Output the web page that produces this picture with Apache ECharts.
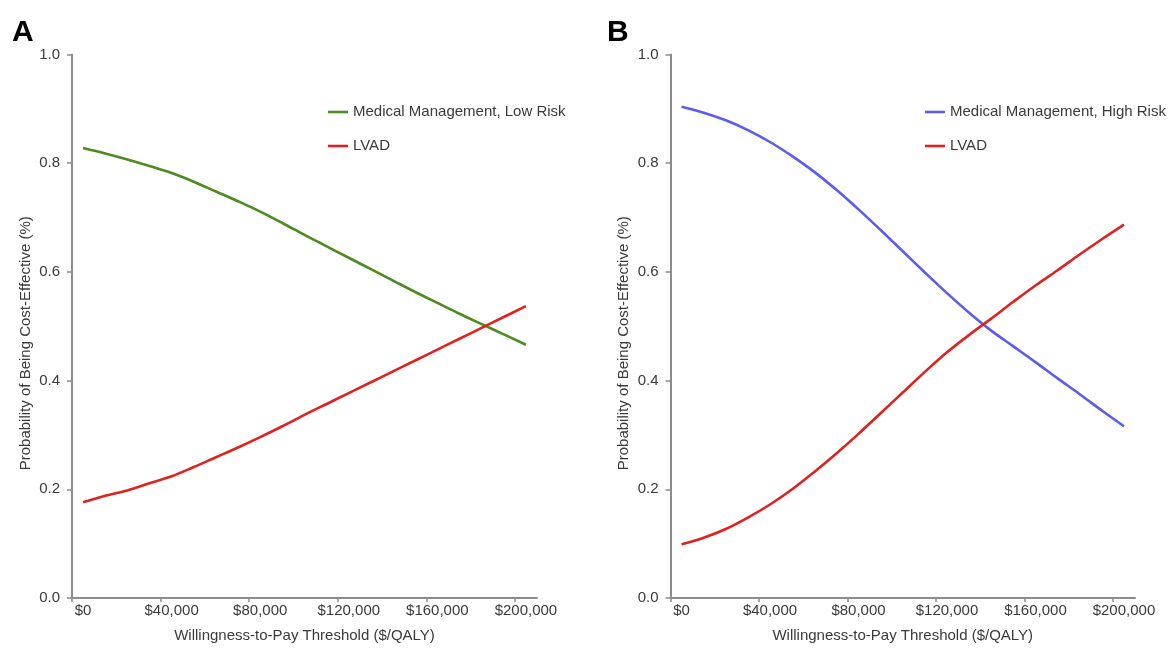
<!DOCTYPE html>
<html>
<head>
<meta charset="utf-8">
<script src="https://cdn.jsdelivr.net/npm/echarts@6/dist/echarts.min.js"></script>
<style>
  html, body { margin: 0; padding: 0; background: #fff; }
  #chart { width: 1173px; height: 648px; }
</style>
</head>
<body>
<div id="chart"></div>
<script>
// Willingness-to-pay thresholds ($/QALY), one point every $10,000
const thresholds = [0, 10000, 20000, 30000, 40000, 50000, 60000, 70000, 80000, 90000, 100000,
  110000, 120000, 130000, 140000, 150000, 160000, 170000, 180000, 190000, 200000];

// Panel A: low-risk cohort
const medLowRisk = [0.828, 0.818, 0.807, 0.795, 0.782, 0.766, 0.748, 0.730, 0.711, 0.690, 0.668,
  0.647, 0.626, 0.605, 0.584, 0.563, 0.543, 0.523, 0.504, 0.485, 0.466];
const lvadLowRisk = [0.176, 0.188, 0.198, 0.211, 0.224, 0.241, 0.259, 0.277, 0.296, 0.316, 0.337,
  0.357, 0.377, 0.397, 0.417, 0.437, 0.457, 0.477, 0.497, 0.517, 0.537];

// Panel B: high-risk cohort
const medHighRisk = [0.904, 0.893, 0.879, 0.861, 0.839, 0.813, 0.784, 0.751, 0.715, 0.677, 0.638,
  0.599, 0.561, 0.525, 0.492, 0.463, 0.434, 0.404, 0.375, 0.345, 0.316];
const lvadHighRisk = [0.099, 0.111, 0.127, 0.148, 0.172, 0.200, 0.232, 0.266, 0.302, 0.340, 0.378,
  0.416, 0.452, 0.484, 0.514, 0.545, 0.575, 0.603, 0.632, 0.660, 0.687];

// Axis tick labels
const xLabelValues = [0, 40000, 80000, 120000, 160000, 200000];
const xTickValues = [-5000, 35000, 75000, 115000, 155000, 195000];
const panelTitles = ['A', 'B'];
const seriesNames = {
  medLow: 'Medical Management, Low Risk',
  medHigh: 'Medical Management, High Risk',
  lvad: 'LVAD'
};
const xTitle = 'Willingness-to-Pay Threshold ($/QALY)';
const yTitle = 'Probability of Being Cost-Effective (%)';

const FONT = '"Liberation Sans", Arial, Helvetica, sans-serif';
const FS = 15;
const AXIS_GRAY = '#8c8c8c';
const TEXT = '#3a3a3a';
const GREEN = '#4b8b20';
const RED = '#e0221e';
const BLUE = '#5b5bf2';
const LEGEND_LINE = 'path://M0,0H20V2.6H0Z';

function pair(xs, ys) { return xs.map((x, i) => [x, ys[i]]); }
function money(v) { return '$' + v.toLocaleString('en-US'); }

function xAxis(gridIndex) {
  return {
    type: 'value', gridIndex,
    min: -5000, max: 205000,
    name: xTitle, nameLocation: 'middle', nameGap: 30,
    nameTextStyle: { fontFamily: FONT, fontSize: FS, color: TEXT },
    axisLine: { show: true, onZero: false, lineStyle: { color: AXIS_GRAY, width: 2 } },
    axisTick: { show: true, length: 4, customValues: xTickValues, lineStyle: { color: AXIS_GRAY, width: 1.5 } },
    axisLabel: { customValues: xLabelValues, formatter: money, margin: 5,
      fontFamily: FONT, fontSize: FS, color: TEXT },
    splitLine: { show: false }
  };
}
function yAxis(gridIndex) {
  return {
    type: 'value', gridIndex,
    min: 0, max: 1, interval: 0.2,
    name: yTitle, nameLocation: 'middle', nameGap: 39, nameRotate: 90,
    nameTextStyle: { fontFamily: FONT, fontSize: FS, color: TEXT, padding: [0, 34, 0, 0] },
    axisLine: { show: true, onZero: false, lineStyle: { color: AXIS_GRAY, width: 2 } },
    axisTick: { show: true, length: 5, lineStyle: { color: AXIS_GRAY, width: 1.5 } },
    axisLabel: { formatter: v => v.toFixed(1), margin: 12, fontFamily: FONT, fontSize: FS, color: TEXT },
    splitLine: { show: false }
  };
}
function line(name, xi, data, color) {
  return {
    type: 'line', name, xAxisIndex: xi, yAxisIndex: xi,
    data, smooth: 0.35, symbol: 'none', showSymbol: false,
    lineStyle: { color, width: 2.6 }, itemStyle: { color },
    emphasis: { disabled: true }
  };
}
function legend(left, names) {
  return {
    orient: 'vertical', left, top: 104.5, padding: 0,
    icon: LEGEND_LINE, itemWidth: 20, itemHeight: 2.6, itemGap: 19,
    data: names, selectedMode: false,
    textStyle: { fontFamily: FONT, fontSize: FS, color: TEXT, lineHeight: 15 }
  };
}

const chart = echarts.init(document.getElementById('chart'), null, { renderer: 'canvas' });
chart.setOption({
  backgroundColor: '#fff',
  animation: false,
  title: [
    { text: panelTitles[0], left: 7, top: 13, textStyle: { fontFamily: FONT, fontSize: 30, fontWeight: 'bold', color: '#000' } },
    { text: panelTitles[1], left: 602, top: 13, textStyle: { fontFamily: FONT, fontSize: 30, fontWeight: 'bold', color: '#000' } }
  ],
  grid: [
    { left: 72, right: 636, top: 54.5, bottom: 49 },
    { left: 670.5, right: 38, top: 54.5, bottom: 49 }
  ],
  xAxis: [xAxis(0), xAxis(1)],
  yAxis: [yAxis(0), yAxis(1)],
  legend: [
    legend(328, [seriesNames.medLow, seriesNames.lvad]),
    legend(925, [seriesNames.medHigh, seriesNames.lvad])
  ],
  series: [
    line(seriesNames.medLow, 0, pair(thresholds, medLowRisk), GREEN),
    line(seriesNames.lvad, 0, pair(thresholds, lvadLowRisk), RED),
    line(seriesNames.medHigh, 1, pair(thresholds, medHighRisk), BLUE),
    line(seriesNames.lvad, 1, pair(thresholds, lvadHighRisk), RED)
  ]
});
</script>
</body>
</html>
